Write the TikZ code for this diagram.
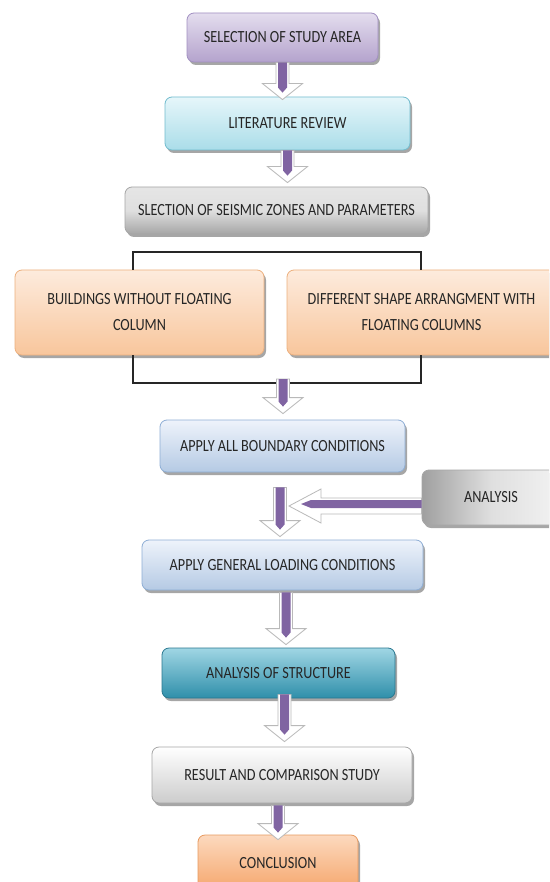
\documentclass[tikz,border=0pt]{standalone}
\usepackage{fontspec}
\setmainfont{Carlito}
\usepackage{graphicx}
\usetikzlibrary{shadows,calc}
\definecolor{txt}{HTML}{262626}
\definecolor{apurple}{HTML}{8064A2}
\definecolor{lavT}{HTML}{E4DDEE}\definecolor{lavB}{HTML}{B4A3CD}\definecolor{lavD}{HTML}{A290C2}
\definecolor{cyT}{HTML}{E6F6FA}\definecolor{cyB}{HTML}{AADDE9}\definecolor{cyD}{HTML}{72BCCE}
\definecolor{orT}{HTML}{FDEBDD}\definecolor{orB}{HTML}{F8C69C}\definecolor{orD}{HTML}{EDB07E}
\definecolor{blT}{HTML}{EEF3FB}\definecolor{blB}{HTML}{B5CAE4}\definecolor{blD}{HTML}{8EAED5}
\definecolor{tlT}{HTML}{A0D6E4}\definecolor{tlB}{HTML}{2F8FAA}\definecolor{tlD}{HTML}{2A7890}
\definecolor{coT}{HTML}{FCD9BE}\definecolor{coB}{HTML}{F5A66C}\definecolor{coD}{HTML}{E8995E}
\newcommand\tx[1]{\scalebox{1}[1.2]{\begin{tabular}{@{}c@{}}#1\end{tabular}}}
\newcommand\vblockarrow[2]{%
 \path[fill=white, draw=gray!55, line width=0.8pt] let \p1=(#1), \p2=(#2) in
   (\x1-6.5pt,\y1) -- (\x1+6.5pt,\y1) -- (\x1+6.5pt,\y2+16pt) -- (\x1+20pt,\y2+16pt)
   -- (\x1,\y2) -- (\x1-20pt,\y2+16pt) -- (\x1-6.5pt,\y2+16pt) -- cycle;
 \path[fill=apurple] let \p1=(#1), \p2=(#2) in
   (\x1-4.5pt,\y1) -- (\x1+4.5pt,\y1) -- (\x1+4.5pt,\y2+12pt) -- (\x1,\y2+7pt)
   -- (\x1-4.5pt,\y2+12pt) -- cycle;
}
\newcommand\hblockarrow[2]{%
 \path[fill=white, draw=gray!55, line width=0.8pt] let \p1=(#1), \p2=(#2) in
  (\x1,\y1+8pt) -- (\x2+32pt,\y1+8pt) -- (\x2+32pt,\y1+17pt) -- (\x2,\y1)
  -- (\x2+32pt,\y1-17pt) -- (\x2+32pt,\y1-8pt) -- (\x1,\y1-8pt) -- cycle;
 \path[fill=apurple] let \p1=(#1), \p2=(#2) in
  (\x1,\y1+6pt) -- (\x2+22pt,\y1+6pt) -- (\x2+12pt,\y1+2pt) -- (\x2+22pt,\y1-2pt)
  -- (\x1,\y1-2pt) -- cycle;
}
\tikzset{
  box/.style={rounded corners=7pt, inner sep=0pt, line width=0.8pt,
    font=\fontsize{14.2}{21}\selectfont, text=txt,
    drop shadow={shadow xshift=2pt, shadow yshift=-3pt, opacity=0.35, fill=black}},
  lav/.style={box, draw=lavD, top color=lavT, bottom color=lavB},
  cy/.style={box, draw=cyD, top color=cyT, bottom color=cyB},
  metal/.style={box, draw=gray!70, top color=gray!20, bottom color=gray!70, middle color=gray!25},
  metalh/.style={box, draw=gray!70, left color=gray!75, right color=gray!10, middle color=gray!25},
  org/.style={box, draw=orD, top color=orT, bottom color=orB},
  blu/.style={box, draw=blD, top color=blT, bottom color=blB},
  teal/.style={box, draw=tlD, top color=tlT, bottom color=tlB, middle color=tlT!50!tlB},
  wht/.style={box, draw=gray!70, top color=white, bottom color=gray!40},
  conc/.style={box, draw=coD, top color=coT, bottom color=coB},
  bracket/.style={draw=black!85, line width=1.2pt},
}
\begin{document}
\begin{tikzpicture}[x=1pt,y=-1pt]
\useasboundingbox (0,0) rectangle (549,882);
\clip (0,0) rectangle (549,882);
\fill[white] (0,0) rectangle (549,882);
% brackets
\coordinate (tl) at (133,252);
\coordinate (tr) at (421,252);
\coordinate (bl) at (133,383);
\coordinate (br) at (421,383);
\coordinate (bb) at (283,383);
\coordinate (htip) at (289,0);
% boxes
\node[lav, minimum width=191pt, minimum height=49pt] (sel) at (282.5,37.5) {\tx{SELECTION OF STUDY AREA}};
\node[cy, minimum width=245pt, minimum height=53pt] (lit) at (287.5,123.5) {\tx{LITERATURE REVIEW}};
\node[metal, minimum width=303pt, minimum height=47pt] (seis) at (276.5,210.5) {\tx{SLECTION OF SEISMIC ZONES AND PARAMETERS}};
\node[org, minimum width=249pt, minimum height=85pt] (bwf) at (139.5,312.5) {\tx{BUILDINGS WITHOUT FLOATING\\COLUMN}};
\node[org, minimum width=269pt, minimum height=85pt] (dsa) at (421.5,312.5) {\tx{DIFFERENT SHAPE ARRANGMENT WITH\\FLOATING COLUMNS}};
\draw[bracket] (tl |- bwf.north) -- (tl) -- (tr) -- (tr |- dsa.north);
\draw[bracket] (bl |- bwf.south) -- (bl) -- (br) -- (br |- dsa.south);
\node[blu, minimum width=245pt, minimum height=52pt] (abc) at (282.5,446) {\tx{APPLY ALL BOUNDARY CONDITIONS}};
\node[metalh, minimum width=138pt, minimum height=55pt] (ana) at (491,497.5) {\tx{ANALYSIS}};
\node[blu, minimum width=281pt, minimum height=50pt] (agl) at (282.5,565) {\tx{APPLY GENERAL LOADING CONDITIONS}};
\node[teal, minimum width=233pt, minimum height=50pt] (aos) at (278.5,673) {\tx{ANALYSIS OF STRUCTURE}};
\node[wht, minimum width=260pt, minimum height=56pt] (res) at (282,775) {\tx{RESULT AND COMPARISON STUDY}};
\node[conc, minimum width=160pt, minimum height=56pt] (con) at (278,863) {\tx{CONCLUSION}};
% arrows
\vblockarrow{sel.south}{[yshift=-3pt]lit.north}
\vblockarrow{lit.south}{[yshift=4pt]seis.north}
\vblockarrow{[yshift=4pt]bb}{[yshift=6pt]abc.north}
\vblockarrow{[xshift=-2.5pt,yshift=-15pt]abc.south}{[yshift=3pt]agl.north}
\hblockarrow{[yshift=-8.5pt]ana.west}{htip}
\vblockarrow{[xshift=3.5pt,yshift=-2pt]agl.south}{[yshift=3pt]aos.north}
\vblockarrow{[xshift=6pt,yshift=4pt]aos.south}{[yshift=5pt]res.north}
\vblockarrow{[xshift=-4pt,yshift=-2pt]res.south}{[yshift=-5pt]con.north}
\end{tikzpicture}
\end{document}
